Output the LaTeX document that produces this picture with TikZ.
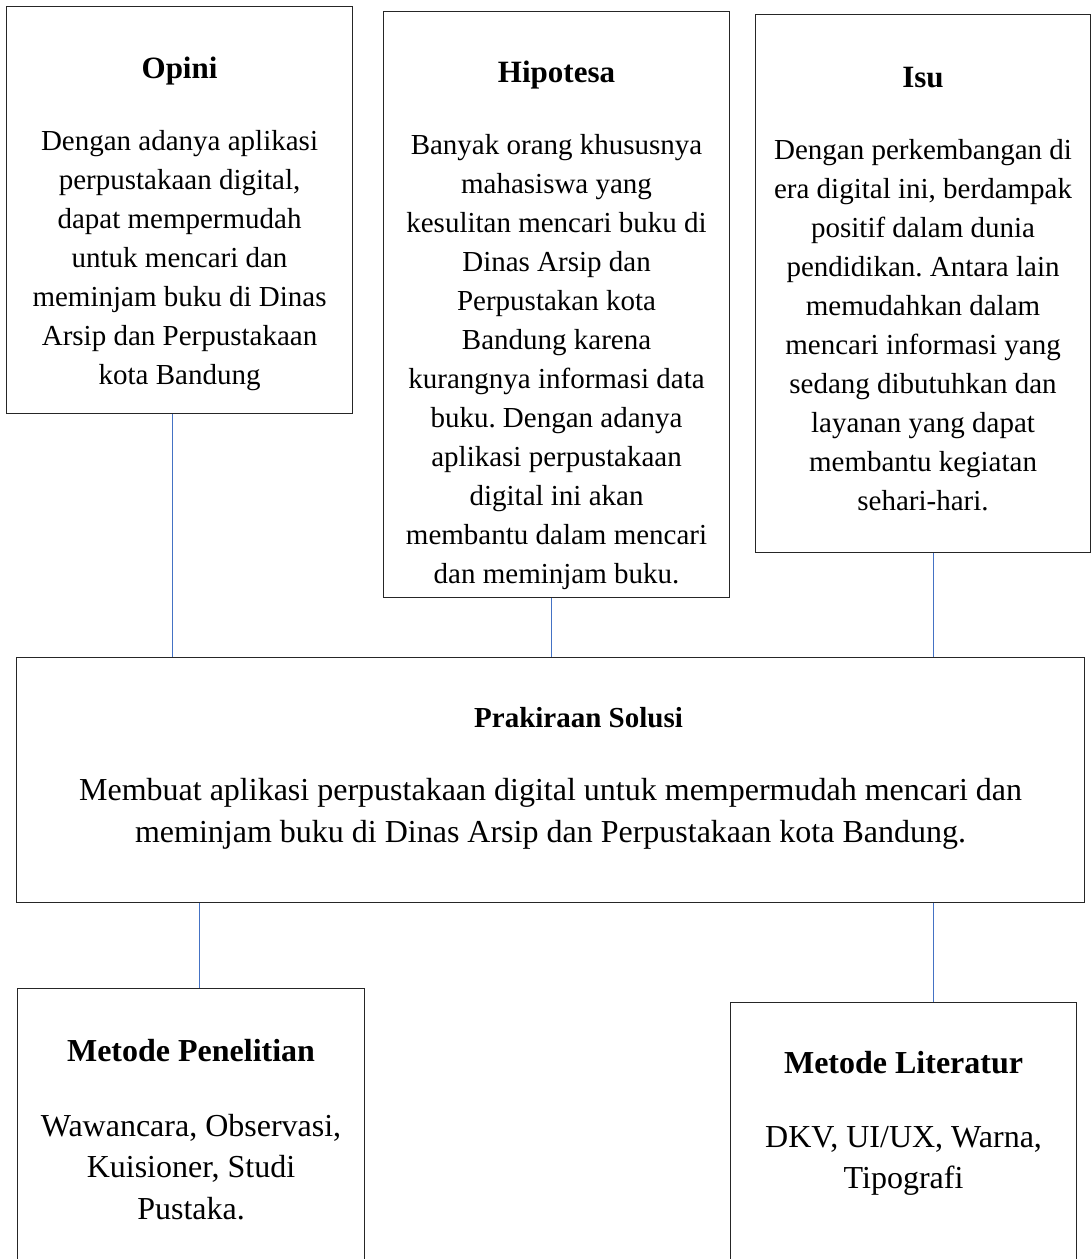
\documentclass[tikz,border=0pt]{standalone}
\usepackage{fontspec}
\setmainfont{Liberation Serif}
\frenchspacing
\definecolor{linkblue}{RGB}{68,114,196}
\newcommand{\heading}[2]{{\fontsize{#1}{39}\selectfont\bfseries\rule{0pt}{25pt}#2}}

\begin{document}
\begin{tikzpicture}[x=1pt, y=-1pt]
\tikzset{box/.style = {draw=black!85, line width=1.1pt, inner sep=0pt, anchor=north west}}
\tikzset{txt/.style = {anchor=north, align=center, inner sep=0pt}}
\tikzset{small text/.style = {font=\fontsize{29}{39}\selectfont}}
\tikzset{big text/.style = {font=\fontsize{32}{41.5}\selectfont}}
\tikzset{link/.style = {draw=linkblue, line width=1.2pt}}

\clip (0,0) rectangle (1091,1259);

% boxes
\node[box, minimum width=346pt, minimum height=407pt] (opini) at (6,6) {};
\node[box, minimum width=346pt, minimum height=586pt] (hipotesa) at (383,11) {};
\node[box, minimum width=335pt, minimum height=538pt] (isu) at (755,14) {};
\node[box, minimum width=1068pt, minimum height=245pt] (solusi) at (16,657) {};
\node[box, minimum width=347pt, minimum height=320pt] (penelitian) at (17,988) {};
\node[box, minimum width=346pt, minimum height=320pt] (literatur) at (730,1002) {};

% texts
\node[txt, small text] (opini-txt) at ([yshift=-47pt]opini.north)
  {\heading{31}{Opini}\\[33pt]
   Dengan adanya aplikasi\\ perpustakaan digital,\\ dapat mempermudah\\
   untuk mencari dan\\ meminjam buku di Dinas\\ Arsip dan Perpustakaan\\ kota Bandung};
\node[txt, small text] (hipotesa-txt) at ([yshift=-46pt]hipotesa.north)
  {\heading{31}{Hipotesa}\\[33pt]
   Banyak orang khususnya\\ mahasiswa yang\\ kesulitan mencari buku di\\
   Dinas Arsip dan\\ Perpustakan kota\\ Bandung karena\\ kurangnya informasi data\\
   buku. Dengan adanya\\ aplikasi perpustakaan\\ digital ini akan\\
   membantu dalam mencari\\ dan meminjam buku.};
\node[txt, small text] (isu-txt) at ([yshift=-48pt]isu.north)
  {\heading{31}{Isu}\\[33pt]
   Dengan perkembangan di\\ era digital ini, berdampak\\ positif dalam dunia\\
   pendidikan. Antara lain\\ memudahkan dalam\\ mencari informasi yang\\
   sedang dibutuhkan dan\\ layanan yang dapat\\ membantu kegiatan\\ sehari-hari.};
\node[txt, big text] (solusi-txt) at ([yshift=-45pt]solusi.north)
  {\heading{29}{\hspace*{56pt}Prakiraan Solusi}\\[32pt]
   Membuat aplikasi perpustakaan digital untuk mempermudah mencari dan\\
   meminjam buku di Dinas Arsip dan Perpustakaan kota Bandung.};
\node[txt, big text] (penelitian-txt) at ([yshift=-48pt]penelitian.north)
  {\heading{32}{Metode Penelitian}\\[33.5pt]
   Wawancara, Observasi,\\ Kuisioner, Studi\\ Pustaka.};
\node[txt, big text] (literatur-txt) at ([yshift=-46pt]literatur.north)
  {\heading{32}{Metode Literatur}\\[32.5pt]
   DKV, UI/UX, Warna,\\ Tipografi};

% connectors
\draw[link] ([xshift=-7pt]opini.south) -- ([xshift=-7pt]opini.south |- solusi.north);
\draw[link] ([xshift=-5pt]hipotesa.south) -- ([xshift=-5pt]hipotesa.south |- solusi.north);
\draw[link] ([xshift=10.5pt]isu.south) -- ([xshift=10.5pt]isu.south |- solusi.north);
\draw[link] ([xshift=8.5pt]penelitian.north |- solusi.south) -- ([xshift=8.5pt]penelitian.north);
\draw[link] ([xshift=30pt]literatur.north |- solusi.south) -- ([xshift=30pt]literatur.north);

\end{tikzpicture}
\end{document}
